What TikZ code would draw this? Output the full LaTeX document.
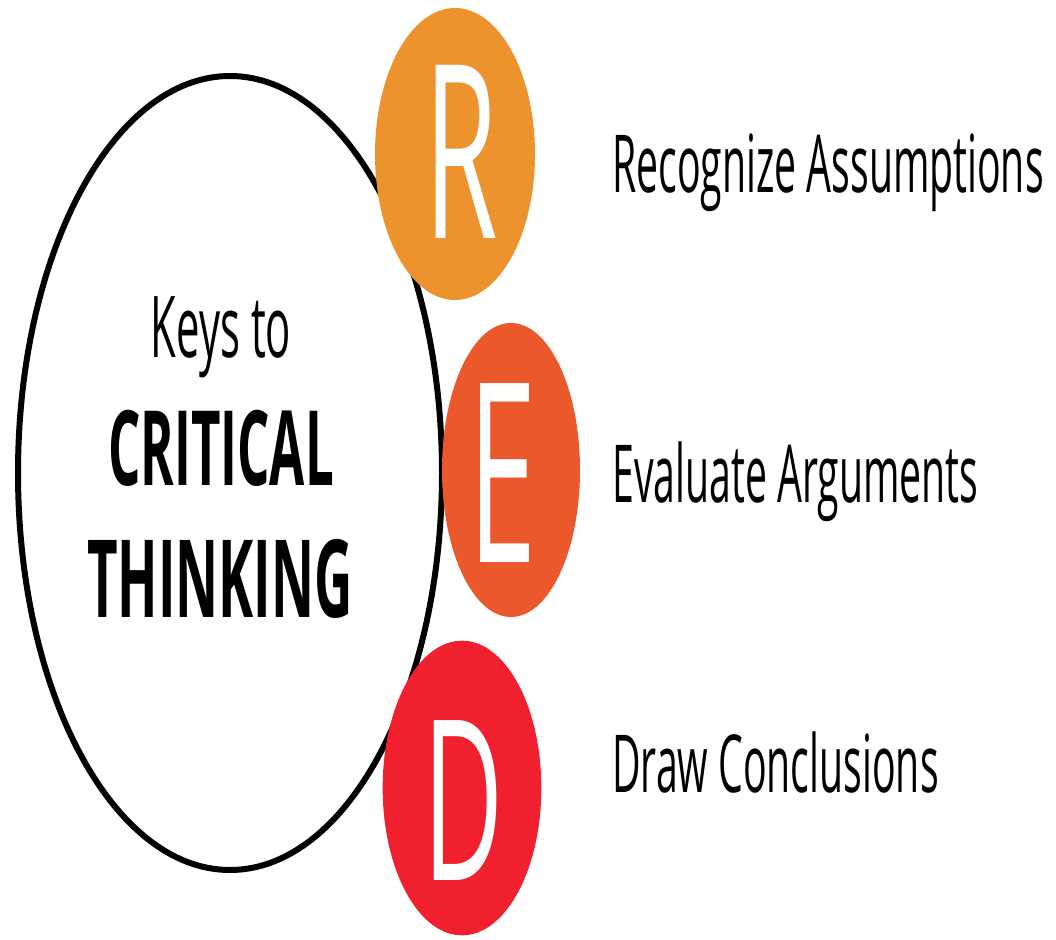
\documentclass[tikz,border=0pt]{standalone}
\usepackage{fontspec}
\newfontfamily\condfont{Open Sans}[FakeStretch=0.49]
\usetikzlibrary{shapes.geometric}
\definecolor{rcolor}{RGB}{236,147,46}
\definecolor{ecolor}{RGB}{235,88,44}
\definecolor{dcolor}{RGB}{240,32,46}
\tikzset{
  keyring/.style={ellipse,draw=black,line width=4.5pt,inner sep=0pt},
  letterdisc/.style={ellipse,inner sep=0pt,draw=none},
  letter/.style={inner sep=0pt,text=white,font=\condfont},
  steplabel/.style={anchor=base west,inner sep=0pt,font=\condfont\fontsize{60}{60}\selectfont}
}
\begin{document}
\begin{tikzpicture}[x=0.75pt,y=0.75pt,yscale=-1,xscale=1]
        \useasboundingbox (0,0) rectangle (1056,939);
        % Big Ellipse
        \draw (230,473) node (keys) [keyring,minimum width=318pt,minimum height=595.5pt] {};
        % Text Node
        \draw (221,357) node (keysto) [anchor=base,inner sep=0pt,font=\condfont\fontsize{64}{64}\selectfont] {Keys to};
        % Text Node
        \draw (221,485) node (critical) [anchor=base,inner sep=0pt,font=\condfont\bfseries\fontsize{78}{78}\selectfont] {CRITICAL};
        % Text Node
        \draw (220,617) node (thinking) [anchor=base,inner sep=0pt,font=\condfont\bfseries\fontsize{81}{81}\selectfont] {THINKING};
        % R Ellipse
        \draw (455,154) node (rdisc) [letterdisc,fill=rcolor,minimum width=120pt,minimum height=219pt] {};
        \draw (461,238) node (rletter) [letter,anchor=base,font=\condfont\fontsize{182}{182}\selectfont] {R};
        % E Ellipse
        \draw (511,470) node (edisc) [letterdisc,fill=ecolor,minimum width=103.5pt,minimum height=220.5pt] {};
        \draw (503,562) node (eletter) [letter,anchor=base,font=\condfont\fontsize{188}{188}\selectfont] {E};
        % D Ellipse
        \draw (462,788) node (ddisc) [letterdisc,fill=dcolor,minimum width=119pt,minimum height=221pt] {};
        \draw (464,880) node (dletter) [letter,anchor=base,font=\condfont\fontsize{168}{168}\selectfont] {D};
        % Labels
        \draw (612,192) node (recognize) [steplabel] {Recognize Assumptions};
        \draw (612,502) node (evaluate) [steplabel] {Evaluate Arguments};
        \draw (612,792) node (drawconc) [steplabel] {Draw Conclusions};
\end{tikzpicture}
\end{document}
